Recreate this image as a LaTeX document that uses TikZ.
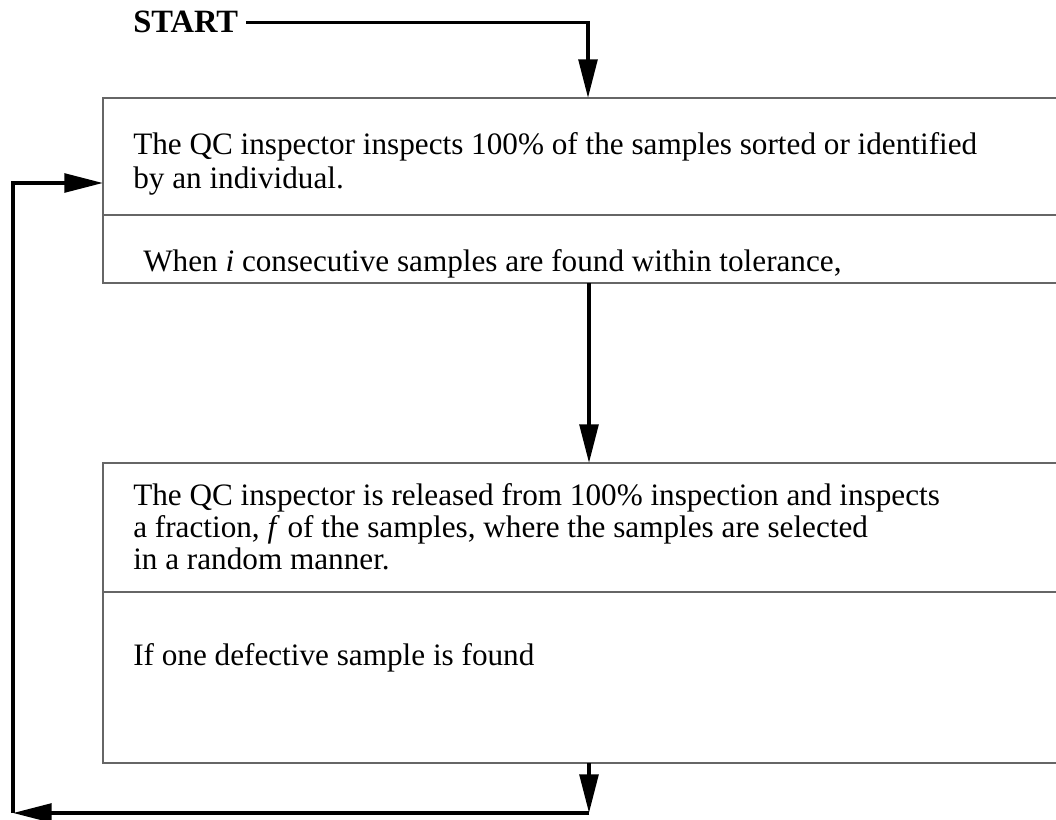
\documentclass[tikz,border=0pt]{standalone}
\usepackage{fontspec}
\setmainfont{Liberation Serif}
\usetikzlibrary{arrows.meta}
\begin{document}
\begin{tikzpicture}[x=0.75pt,y=-0.75pt,
  rule/.style={draw=black!60, line width=1.1pt},
  flow/.style={draw=black, line width=2.8pt,
    -{Triangle[length=29pt,width=14pt]}},
  txt/.style={inner sep=0pt, anchor=base west, align=left,
    font=\fontsize{23.4}{26}\selectfont},
  tight/.style={font=\fontsize{23.4}{24}\selectfont},
  head/.style={inner sep=0pt, anchor=base west,
    font=\fontsize{24.4}{26}\selectfont\bfseries}]
\useasboundingbox (0,0) rectangle (1056,820);

% upper panel: open on the right, split by one rule
\draw[rule] (1056,98) -| (103,283) -- (1056,283);
\draw[rule] (103,215) -- (1056,215);
% lower panel
\draw[rule] (1056,463) -| (103,763) -- (1056,763);
\draw[rule] (103,592) -- (1056,592);

% points where the flow lines meet the panels
\coordinate (topIn)   at (588,98);
\coordinate (topOut)  at (589,283);
\coordinate (lowIn)   at (589,463);
\coordinate (lowOut)  at (589,763);
\coordinate (loopA)   at (589,813);
\coordinate (loopB)   at (13,813);
\coordinate (sideIn)  at (103,183);

% texts (multi-line nodes are placed by their last baseline)
\node[head] (start) at (133,33) {START};
\node[txt] (full) at (133,189)
  {The QC inspector inspects 100\% of the samples sorted or identified\\
   by an individual.};
\node[txt] (cond) at (143,271)
  {When \textit{i} consecutive samples are found within tolerance,};
\node[txt, tight] (frac) at (133,569)
  {The QC inspector is released from 100\% inspection and inspects\\
   a fraction, \textit{f} of the samples, where the samples are selected\\
   in a random manner.};
\node[txt] (defect) at (133,665) {If one defective sample is found};

% flow lines
\draw[flow, shorten <=6pt] (start.east) -| (topIn);
\draw[flow] (topOut) -- (lowIn);
\draw[flow] (lowOut) -- (loopA);
\draw[flow] (loopA) -- (loopB);
\draw[flow] (loopB) |- (sideIn);
\end{tikzpicture}
\end{document}
